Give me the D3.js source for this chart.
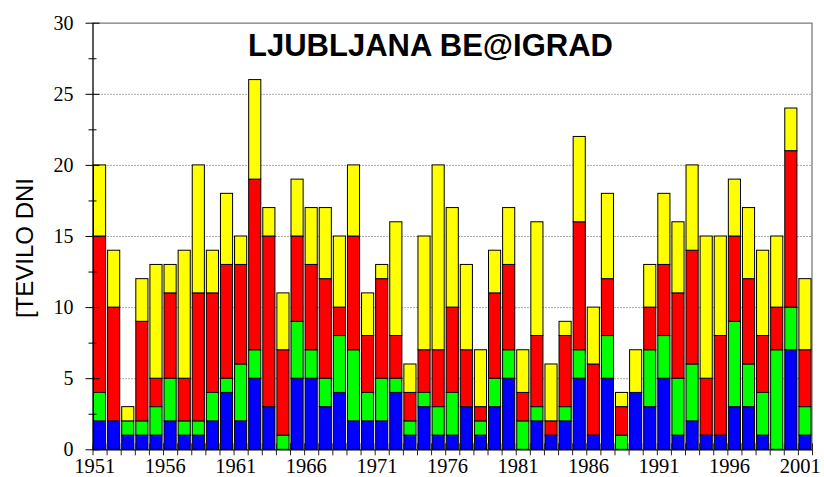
<!DOCTYPE html>
<html>
<head>
<meta charset="utf-8">
<script src="https://cdn.jsdelivr.net/npm/d3@7"></script>
<style>
  body { margin: 0; background: #fff; }
  svg { display: block; }
</style>
</head>
<body>
<div id="G"></div>
<script>
// years on the x axis
var years = [1951, 1952, 1953, 1954, 1955, 1956, 1957, 1958, 1959, 1960,
  1961, 1962, 1963, 1964, 1965, 1966, 1967, 1968, 1969, 1970,
  1971, 1972, 1973, 1974, 1975, 1976, 1977, 1978, 1979, 1980,
  1981, 1982, 1983, 1984, 1985, 1986, 1987, 1988, 1989, 1990,
  1991, 1992, 1993, 1994, 1995, 1996, 1997, 1998, 1999, 2000, 2001];
var labelYears = [1951, 1956, 1961, 1966, 1971, 1976, 1981, 1986, 1991, 1996, 2001];
var yTicks = [0, 5, 10, 15, 20, 25, 30];
var yMinor = [2.5, 7.5, 12.5, 17.5, 22.5, 27.5];

// stacked series, bottom to top
var blue   = [2,2,1,1,1,2,1,1,2,4, 2,5,3,0,5,5,3,4,2,2, 2,4,1,3,1,1,3,1,3,5, 0,2,1,2,5,1,5,0,4,3, 5,1,2,1,1,3,3,1,0,7, 1];
var green  = [2,0,1,1,2,3,1,1,2,1, 4,2,0,1,4,2,2,4,5,2, 3,1,1,1,2,3,0,1,2,2, 2,1,0,1,2,0,3,1,0,4, 3,4,4,0,0,6,3,3,7,3, 2];
var red    = [11,8,0,7,2,6,3,9,7,8, 7,12,12,6,6,6,7,2,8,4, 7,3,2,3,4,6,4,1,6,6, 2,5,1,5,9,5,4,2,0,3, 5,6,8,4,7,6,6,4,3,11, 4];
var yellow = [5,4,1,3,8,2,9,9,3,5, 2,7,2,4,4,4,5,5,5,3, 1,8,2,8,13,7,6,4,3,4, 3,8,4,1,6,4,6,1,3,3, 5,5,6,10,7,4,5,6,5,3, 5];

var keys = ["blue", "green", "red", "yellow"];
var colors = { blue: "#0000ff", green: "#00ff00", red: "#ff0000", yellow: "#ffff00" };

var Data = years.map(function (yr, i) {
  return { year: yr, blue: blue[i], green: green[i], red: red[i], yellow: yellow[i] };
});

var Border = { top: 22.7, right: 12, bottom: 27.7, left: 92.5 },
  width = 824 - Border.left - Border.right,
  height = 477 - Border.top - Border.bottom;

var svg = d3.select("#G")
  .append("svg")
  .attr("width", 824)
  .attr("height", 477);

var g = svg.append("g")
  .attr("transform", "translate(" + Border.left + "," + Border.top + ")");

// scales
var x = d3.scaleBand()
  .domain(years)
  .range([0, width])
  .paddingInner(0.14)
  .paddingOuter(0.07);

var xl = d3.scaleLinear()
  .domain([1951, 2002])
  .range([0, width]);

var y = d3.scaleLinear()
  .domain([0, 30])
  .range([height, 0]);

// dotted grid
g.append("g")
  .selectAll("line")
  .data([5, 10, 15, 20, 25])
  .join("line")
  .attr("x1", 0)
  .attr("x2", width)
  .attr("y1", function (d) { return y(d) + 0.5; })
  .attr("y2", function (d) { return y(d) + 0.5; })
  .attr("stroke", "#555")
  .attr("stroke-width", 1)
  .attr("stroke-dasharray", "1,2");

// frame top + right
g.append("path")
  .attr("d", "M0,0.5H" + width + "V" + height)
  .attr("fill", "none")
  .attr("stroke", "#7a7a7a")
  .attr("stroke-width", 1.3);

// stacked bars
var series = d3.stack().keys(keys)(Data);

g.append("g")
  .selectAll("g")
  .data(series)
  .join("g")
  .attr("fill", function (d) { return colors[d.key]; })
  .selectAll("rect")
  .data(function (d) { return d.filter(function (p) { return p[1] > p[0]; }); })
  .join("rect")
  .attr("x", function (d) { return x(d.data.year); })
  .attr("width", x.bandwidth())
  .attr("y", function (d) { return y(d[1]); })
  .attr("height", function (d) { return y(d[0]) - y(d[1]); })
  .attr("stroke", "#000")
  .attr("stroke-width", 1);

// x axis: ticks at bar boundaries
var xAxis = g.append("g")
  .attr("transform", "translate(0," + height + ")")
  .call(d3.axisBottom(xl)
    .tickValues(years.concat([2002]))
    .tickFormat("")
    .tickSizeInner(6)
    .tickSizeOuter(0));
xAxis.selectAll(".tick line").attr("y1", -6).attr("stroke", "#222");
xAxis.select(".domain").attr("stroke", "#000").attr("stroke-width", 1.3);

// x labels (sit a little left of bar centres, like the original)
var xLab = g.append("g")
  .attr("transform", "translate(1.75," + height + ")")
  .call(d3.axisBottom(xl)
    .tickValues(labelYears)
    .tickFormat(d3.format("d"))
    .tickSize(6)
    .tickPadding(3));
xLab.select(".domain").remove();
xLab.selectAll(".tick line").remove();
xLab.selectAll(".tick text")
  .attr("font-family", "'Liberation Serif', 'Times New Roman', serif")
  .attr("font-size", 20.5)
  .attr("fill", "#000");

// y axis
var yAxis = g.append("g")
  .call(d3.axisLeft(y)
    .tickValues(yTicks)
    .tickSize(7)
    .tickSizeOuter(0)
    .tickPadding(12));
yAxis.selectAll(".tick line").attr("x1", 7).attr("stroke", "#000");
yAxis.select(".domain").attr("stroke", "#000").attr("stroke-width", 1.3);
yAxis.selectAll(".tick text")
  .attr("font-family", "'Liberation Serif', 'Times New Roman', serif")
  .attr("font-size", 20)
  .attr("fill", "#000");

var yMin = g.append("g")
  .call(d3.axisLeft(y)
    .tickValues(yMinor)
    .tickFormat("")
    .tickSize(4)
    .tickSizeOuter(0));
yMin.select(".domain").remove();
yMin.selectAll(".tick line").attr("x1", 4).attr("stroke", "#000");

// title
svg.append("text")
  .attr("x", 430.5)
  .attr("y", 55.5)
  .attr("text-anchor", "middle")
  .attr("font-family", "'Liberation Sans', Arial, sans-serif")
  .attr("font-weight", "bold")
  .attr("font-size", 31)
  .text("LJUBLJANA BE@IGRAD");

// y title
svg.append("text")
  .attr("transform", "translate(33,248) rotate(-90)")
  .attr("text-anchor", "middle")
  .attr("font-family", "'Liberation Sans', Arial, sans-serif")
  .attr("font-size", 24)
  .text("[TEVILO DNI");
</script>
</body>
</html>
